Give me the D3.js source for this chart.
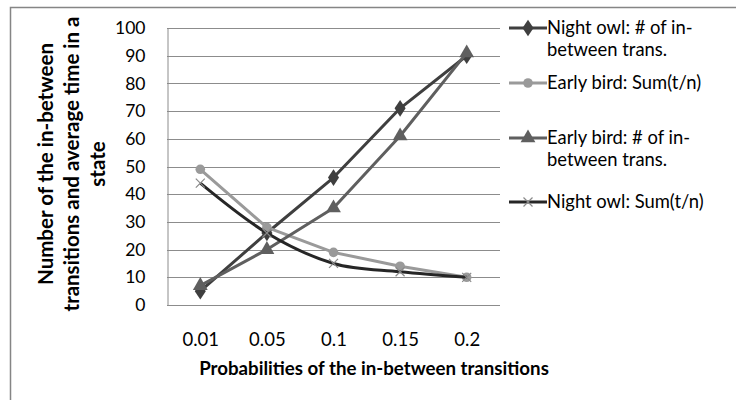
<!DOCTYPE html>
<html>
<head>
<meta charset="utf-8">
<script src="https://cdn.jsdelivr.net/npm/d3@7"></script>
<style>
  html, body { margin: 0; padding: 0; background: #fff; }
  svg { display: block; font-family: Lato, "Open Sans", sans-serif; }
</style>
</head>
<body>
<svg id="chart" width="736" height="400"></svg>
<script>
// Categories: probability of the in-between transitions
const categories = ["0.01", "0.05", "0.1", "0.15", "0.2"];
const yTicks = [0, 10, 20, 30, 40, 50, 60, 70, 80, 90, 100];

// Series values
const nightOwlCount = [5, 26, 46, 71, 90];
const earlyBirdSum = [49, 28, 19, 14, 10];
const earlyBirdCount = [7, 20, 35, 61, 91];
const nightOwlSum = [44, 26, 15, 12, 10];

const seriesNames = [
  ["Night owl: # of in-", "between trans."],
  ["Early bird: Sum(t/n)"],
  ["Early bird: # of in-", "between trans."],
  ["Night owl: Sum(t/n)"]
];

const series = [
  { name: seriesNames[0], values: nightOwlCount, color: "#3f3f3f", marker: "diamond", smooth: false },
  { name: seriesNames[1], values: earlyBirdSum, color: "#9a9a9a", marker: "circle", smooth: false },
  { name: seriesNames[2], values: earlyBirdCount, color: "#5f5f5f", marker: "triangle", smooth: false },
  { name: seriesNames[3], values: nightOwlSum, color: "#262626", marker: "cross", smooth: true }
];

const svg = d3.select("#chart");
const plot = { left: 167, right: 500, top: 28, bottom: 305 };

const x = d3.scalePoint().domain(categories).range([plot.left, plot.right]).padding(0.5);
const y = d3.scaleLinear().domain([0, 100]).range([plot.bottom, plot.top]);

// Outer chart frame (only top and left edges fall inside the view)
svg.append("path")
  .attr("d", `M10.5,400 V7.5 H736`)
  .attr("fill", "none").attr("stroke", "#858585").attr("stroke-width", 1.5);

// Horizontal gridlines
svg.append("g").selectAll("line").data(yTicks.slice(1)).join("line")
  .attr("x1", plot.left).attr("x2", plot.right)
  .attr("y1", d => Math.round(y(d)) + 0.5).attr("y2", d => Math.round(y(d)) + 0.5)
  .attr("stroke", "#8c8c8c").attr("stroke-width", 1);

// Y axis
const yAxis = svg.append("g").attr("transform", `translate(${plot.left + 0.5},0)`)
  .call(d3.axisLeft(y).tickValues(yTicks).tickSize(0).tickPadding(22));
yAxis.select(".domain").attr("stroke", "#8c8c8c");
yAxis.selectAll("text").attr("font-size", 17.5).attr("fill", "#000").attr("font-family", "Lato");

// X axis
const xAxis = svg.append("g").attr("transform", `translate(0,${Math.round(plot.bottom) + 0.5})`)
  .call(d3.axisBottom(x).tickSize(0).tickPadding(27));
xAxis.select(".domain").attr("stroke", "#8c8c8c").attr("d", `M${plot.left},0H${plot.right}`);
xAxis.selectAll("text").attr("font-size", 18.5).attr("fill", "#000").attr("font-family", "Lato");

// Axis titles
svg.append("text")
  .attr("x", 374).attr("y", 375)
  .attr("text-anchor", "middle").attr("font-weight", "bold").attr("font-size", 18.7)
  .text("Probabilities of the in-between transitions");

const yTitle = svg.append("text")
  .attr("transform", "translate(72,164) rotate(-90)")
  .attr("text-anchor", "middle").attr("font-weight", "bold").attr("font-size", 20.5);
["Number of the in-between", "transitions and average time in a", "state"].forEach((t, i) => {
  yTitle.append("tspan").attr("x", 0).attr("y", (i - 1) * 26 + 7).text(t);
});

// Marker shapes
function marker(g, type, color) {
  if (type === "diamond") {
    g.append("path").attr("d", d3.symbol(d3.symbolDiamond, 80)()).attr("fill", color)
      .attr("transform", "scale(1.15,1)");
  } else if (type === "circle") {
    g.append("circle").attr("r", 4.8).attr("fill", color);
  } else if (type === "triangle") {
    g.append("path").attr("d", d3.symbol(d3.symbolTriangle, 95)()).attr("fill", color);
  } else {
    g.append("path").attr("d", "M-4.5,-4.5L4.5,4.5M-4.5,4.5L4.5,-4.5")
      .attr("stroke", "#8a8a8a").attr("stroke-width", 1.2);
  }
}

// Lines and markers
series.forEach(s => {
  const line = d3.line()
    .x((d, i) => x(categories[i]))
    .y(d => y(d))
    .curve(s.smooth ? d3.curveCardinal.tension(0) : d3.curveLinear);
  svg.append("path").datum(s.values)
    .attr("d", line).attr("fill", "none")
    .attr("stroke", s.color).attr("stroke-width", 3).attr("stroke-linejoin", "round");
  s.values.forEach((v, i) => {
    const g = svg.append("g").attr("transform", `translate(${x(categories[i])},${y(v)})`);
    marker(g, s.marker, s.color);
  });
});

// Legend
const legendY = [28, 83, 138, 202];
series.forEach((s, k) => {
  const g = svg.append("g").attr("transform", `translate(509,${legendY[k]})`);
  g.append("line").attr("x1", 0).attr("x2", 38).attr("y1", 0).attr("y2", 0)
    .attr("stroke", s.color).attr("stroke-width", 3);
  const m = g.append("g").attr("transform", "translate(19,0)");
  marker(m, s.marker, s.color);
  const t = g.append("text").attr("font-size", 18.4).attr("fill", "#000");
  s.name.forEach((line, i) => {
    t.append("tspan").attr("x", 38).attr("y", i * 22 + 6).text(line);
  });
});
</script>
</body>
</html>
